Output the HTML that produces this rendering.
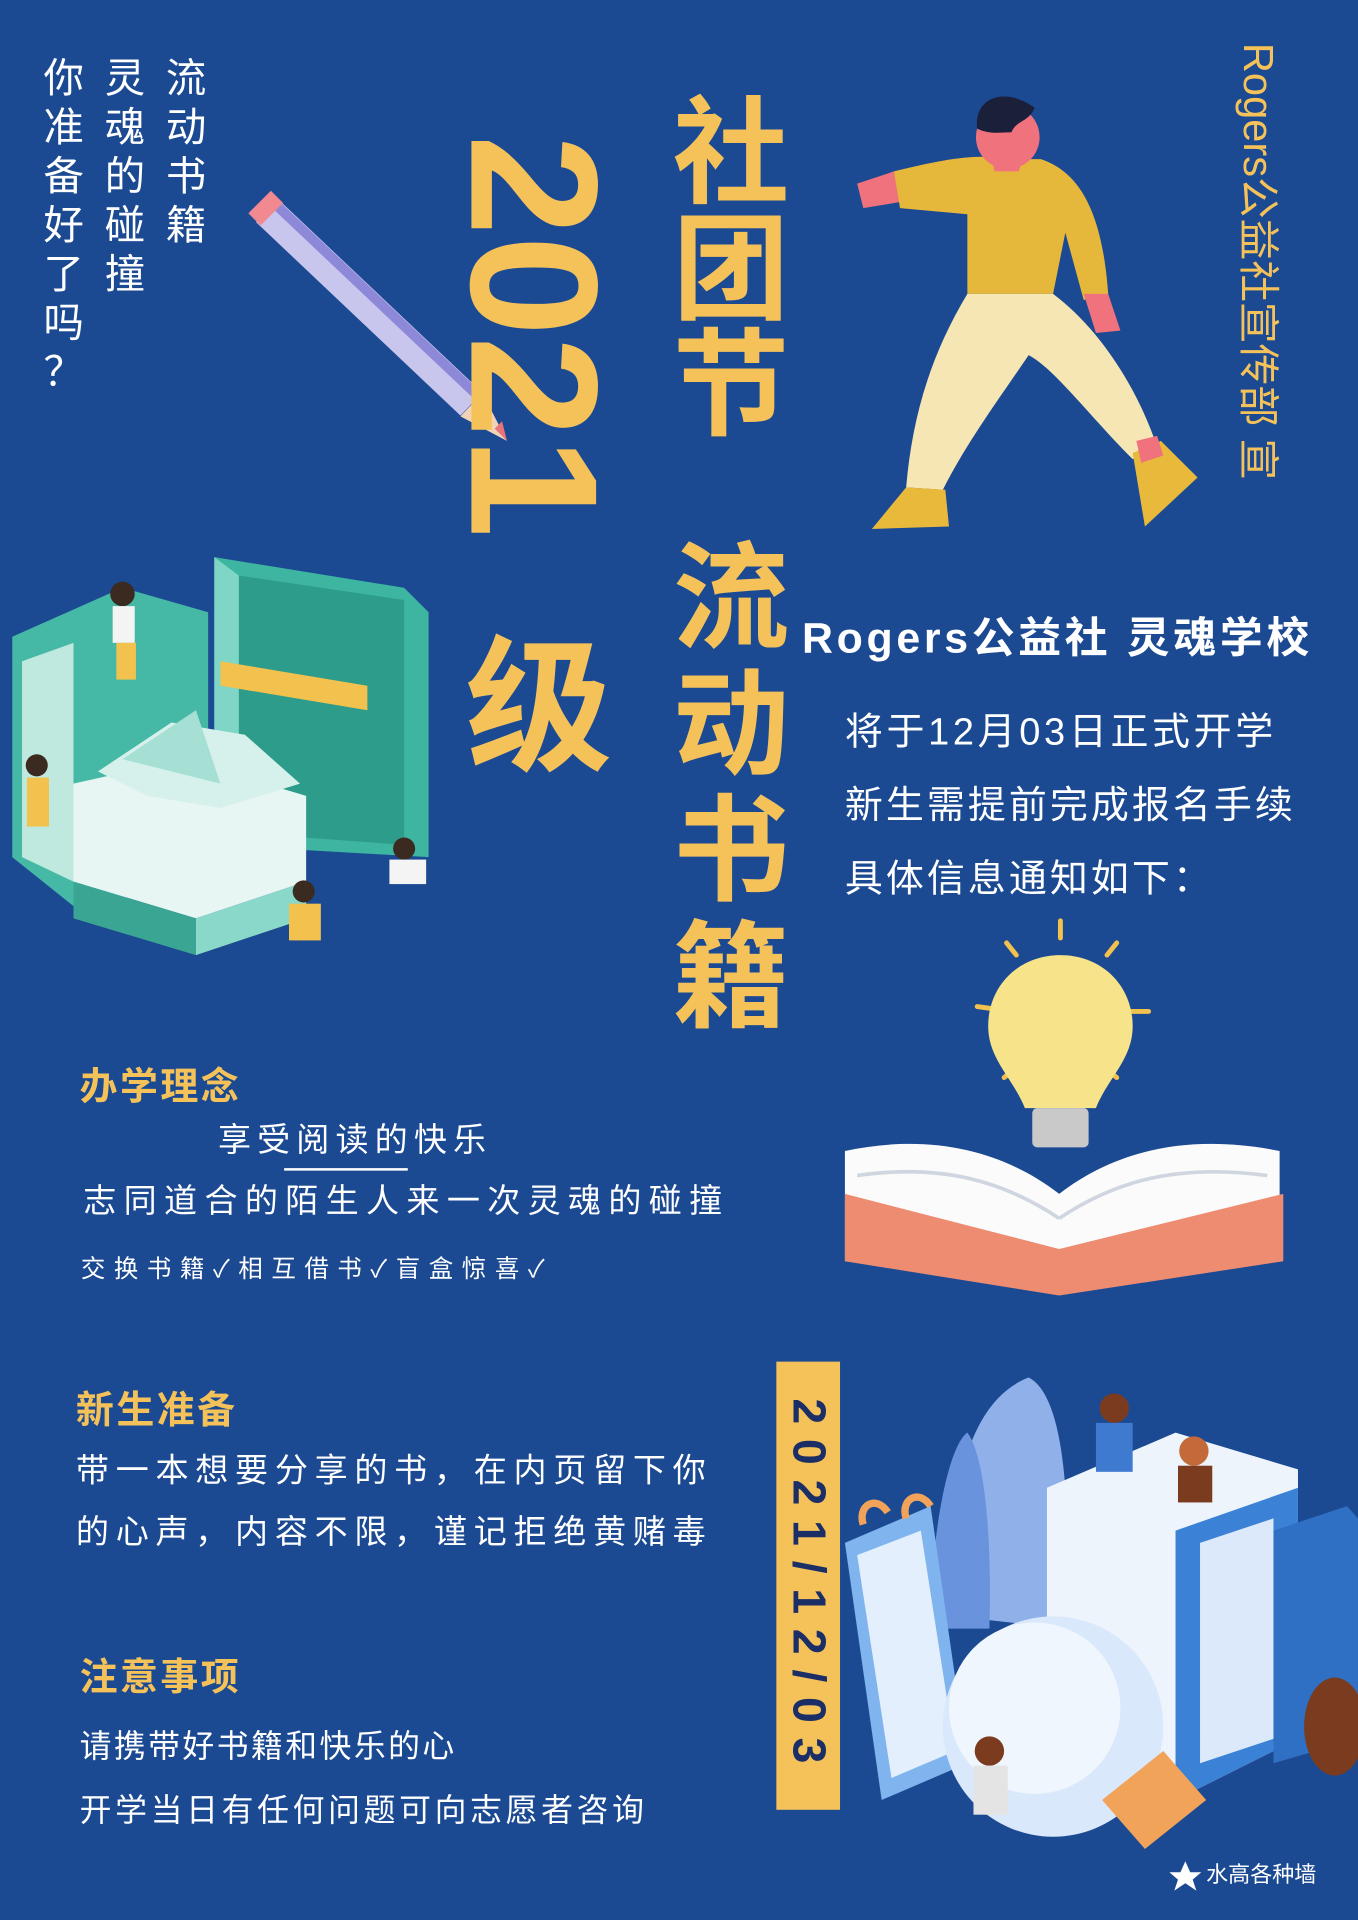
<!DOCTYPE html>
<html><head><meta charset="utf-8"><style>
html,body{margin:0;padding:0;background:#1b4a93;}
svg{display:block}
text{font-family:"Liberation Sans","Noto Sans CJK SC",sans-serif;}
</style></head><body>
<svg id="poster" width="1358" height="1920" viewBox="0 0 1109 1568" xmlns="http://www.w3.org/2000/svg">
<rect width="1109" height="1568" fill="#1b4a93"/>

<g>
<line x1="218" y1="172" x2="385" y2="330" stroke="#c9c6ee" stroke-width="26" stroke-linecap="butt"/>
<line x1="224" y1="166" x2="391" y2="324" stroke="#8e88d8" stroke-width="8"/>
<line x1="212" y1="165" x2="222" y2="175" stroke="#f08a90" stroke-width="26"/>
<polygon points="376,340 394,321 414,360" fill="#f3d3b8"/>
<polygon points="404,350 410,344 414,360" fill="#e9737b"/>
</g>

<g>
<path d="M700,150 L730,140 L735,165 L705,170 Z" fill="#f0727c"/>
<path d="M730,140 C770,130 800,125 820,130 L850,130 C880,140 900,170 905,240 L885,245 L870,190 L860,240 L790,240 L790,175 L735,170 Z" fill="#e5b73b"/>
<path d="M885,240 L905,240 L915,270 L895,272 Z" fill="#f0727c"/>
<path d="M790,240 L860,240 C900,270 930,320 945,365 L925,375 C890,340 860,300 840,290 C820,320 790,360 770,400 L740,398 C745,340 760,290 790,240 Z" fill="#f6e6b4"/>
<path d="M740,398 L772,400 L775,430 L712,432 Z" fill="#e9b93b"/>
<path d="M925,370 L948,360 L978,390 L935,430 Z" fill="#e9b93b"/>
<path d="M928,360 L945,356 L950,372 L932,378 Z" fill="#f0727c"/>
<circle cx="823" cy="112" r="26" fill="#f0727c"/>
<path d="M798,105 C795,80 820,70 845,88 C840,100 830,98 826,108 C818,108 808,110 798,105 Z" fill="#1a1f3a"/>
<path d="M810,128 L835,130 L832,140 L812,140 Z" fill="#f0727c"/>
</g>

<g>
<polygon points="175,455 330,480 350,500 350,700 175,690" fill="#3db5a0"/>
<polygon points="195,470 330,490 330,690 195,680" fill="#2e9c8a"/>
<polygon points="175,455 195,470 195,680 175,690" fill="#7fd6c6"/>
<polygon points="180,540 300,560 300,580 180,560" fill="#f2c14e"/>
<polygon points="10,520 100,480 170,500 170,720 60,740 10,700" fill="#46b9a6"/>
<polygon points="18,540 60,525 60,720 18,700" fill="#bfe9df"/>
<polygon points="60,640 150,620 250,650 250,720 160,750 60,720" fill="#e8f6f3"/>
<polygon points="60,720 160,750 160,780 60,750" fill="#3aa592"/>
<polygon points="160,750 250,720 250,750 160,780" fill="#8ad8c9"/>
<polygon points="80,630 140,590 200,600 245,640 180,660 120,650" fill="#d6f1ec"/>
<polygon points="100,620 160,580 180,640" fill="#a6e0d5"/>
<circle cx="100" cy="485" r="10" fill="#3a2a1f"/>
<rect x="92" y="495" width="18" height="30" fill="#f4f4f4"/>
<rect x="95" y="525" width="16" height="30" fill="#f2c14e"/>
<circle cx="330" cy="693" r="9" fill="#3a2a1f"/>
<rect x="318" y="702" width="30" height="20" fill="#f4f4f4"/>
<circle cx="248" cy="728" r="9" fill="#3a2a1f"/>
<rect x="236" y="738" width="26" height="30" fill="#f2c14e"/>
<circle cx="30" cy="625" r="9" fill="#3a2a1f"/>
<rect x="22" y="635" width="18" height="40" fill="#f2c14e"/>
</g>

<g>
<g stroke="#f2c14e" stroke-width="4" stroke-linecap="round">
<line x1="866" y1="752" x2="866" y2="766"/><line x1="822" y1="770" x2="830" y2="780"/><line x1="912" y1="770" x2="904" y2="780"/>
<line x1="798" y1="822" x2="812" y2="824"/><line x1="938" y1="826" x2="924" y2="826"/>
<line x1="820" y1="880" x2="830" y2="872"/><line x1="912" y1="880" x2="902" y2="872"/>
</g>
<path d="M866,780 C900,780 925,805 925,838 C925,865 905,880 895,905 L837,905 C827,880 807,865 807,838 C807,805 832,780 866,780 Z" fill="#f7e48a"/>
<rect x="843" y="905" width="46" height="32" rx="4" fill="#c9c9c9"/>
<path d="M690,940 C760,925 820,940 865,975 C910,940 970,925 1045,940 L1045,1030 L865,1050 L690,1030 Z" fill="#fbfbfb"/>
<path d="M700,960 C770,950 820,965 865,995 M1035,960 C960,950 910,965 865,995" stroke="#d0d6e0" stroke-width="3" fill="none"/>
<path d="M690,975 L865,1020 L1048,975 L1048,1030 L865,1058 L690,1030 Z" fill="#ee8c72"/>
</g>

<g>
<path d="M780,1320 C770,1200 800,1140 840,1125 C870,1140 875,1230 870,1330 Z" fill="#8fb0e8"/>
<path d="M760,1330 C760,1250 775,1180 790,1170 C805,1190 810,1260 808,1330 Z" fill="#6a93de"/>
<polygon points="690,1260 760,1230 790,1440 720,1470" fill="#7fb4ee"/>
<polygon points="700,1270 752,1250 780,1430 728,1452" fill="#e3effc"/>
<polygon points="855,1215 960,1170 1060,1200 1060,1420 960,1470 855,1430" fill="#eef4fc"/>
<polygon points="960,1250 1060,1215 1060,1420 960,1470" fill="#3b82d6"/>
<polygon points="980,1260 1040,1240 1040,1420 980,1440" fill="#dbe9fb"/>
<polygon points="1040,1250 1100,1230 1109,1240 1109,1420 1040,1440" fill="#2f6fc4"/>
<circle cx="860" cy="1410" r="90" fill="#d9e8fb"/>
<circle cx="845" cy="1395" r="70" fill="#f0f6fe"/>
<polygon points="900,1470 950,1430 985,1470 935,1510" fill="#f2a35a"/>
<circle cx="910" cy="1150" r="12" fill="#7a3b1f"/><rect x="895" y="1162" width="30" height="40" fill="#3e7bd0"/>
<circle cx="975" cy="1185" r="12" fill="#c46a3a"/><rect x="962" y="1197" width="28" height="30" fill="#7a3b1f"/>
<circle cx="808" cy="1430" r="12" fill="#7a3b1f"/><rect x="795" y="1442" width="28" height="40" fill="#e4e4e4"/>
<ellipse cx="1090" cy="1410" rx="25" ry="40" fill="#7a3b1f"/>
<path d="M705,1245 C700,1230 715,1220 725,1235 M740,1240 C735,1225 750,1215 760,1230" stroke="#f2a35a" stroke-width="6" fill="none"/>
</g>

<rect x="634" y="1112" width="52" height="366" fill="#f5c25a"/>
<text x="648" y="1142" transform="rotate(90 648 1142)" font-size="38" font-weight="700" fill="#1b2f66" letter-spacing="12">2021/12/03</text>

<text x="385" y="110" transform="rotate(90 385 110)" font-size="148" font-weight="700" fill="#f5c25a">2021</text>
<text x="440" y="620" text-anchor="middle" font-size="120" font-weight="700" fill="#f5c25a">级</text>
<g id="vt"></g>

<text x="655" y="533" font-size="35" font-weight="700" fill="#ffffff" letter-spacing="3">Rogers公益社 灵魂学校</text>
<text x="690" y="608" font-size="31" fill="#ffffff" letter-spacing="3">将于12月03日正式开学</text>
<text x="690" y="668" font-size="31" fill="#ffffff" letter-spacing="2.5">新生需提前完成报名手续</text>
<text x="690" y="728" font-size="31" fill="#ffffff" letter-spacing="2.5">具体信息通知如下：</text>

<text x="1016" y="35" transform="rotate(90 1016 35)" font-size="34" fill="#f5c25a">Rogers公益社宣传部 宣</text>

<text x="65" y="898" font-size="31" font-weight="700" fill="#f5c25a" letter-spacing="2">办学理念</text>
<text x="178" y="940" font-size="27" fill="#ffffff" letter-spacing="5">享受阅读的快乐</text>
<line x1="232" y1="955" x2="333" y2="955" stroke="#ffffff" stroke-width="2"/>
<text x="68" y="990" font-size="27" fill="#ffffff" letter-spacing="6">志同道合的陌生人来一次灵魂的碰撞</text>
<text x="66" y="1043" font-size="20" fill="#ffffff" letter-spacing="7">交换书籍✓相互借书✓盲盒惊喜✓</text>

<text x="62" y="1162" font-size="31" font-weight="700" fill="#f5c25a" letter-spacing="2">新生准备</text>
<text x="62" y="1210" font-size="27" fill="#ffffff" letter-spacing="5.5">带一本想要分享的书，在内页留下你</text>
<text x="62" y="1260" font-size="27" fill="#ffffff" letter-spacing="5.5">的心声，内容不限，谨记拒绝黄赌毒</text>

<text x="65" y="1380" font-size="31" font-weight="700" fill="#f5c25a" letter-spacing="2">注意事项</text>
<text x="65" y="1435" font-size="26" fill="#ffffff" letter-spacing="2">请携带好书籍和快乐的心</text>
<text x="65" y="1487" font-size="26" fill="#ffffff" letter-spacing="3">开学当日有任何问题可向志愿者咨询</text>

<text x="985" y="1537" font-size="18" fill="#ffffff">水高各种墙</text>
<polygon points="968,1520 972,1529 981,1529 974,1535 977,1544 968,1538 959,1544 962,1535 955,1529 964,1529" fill="#ffffff"/>
</svg>
<script>
var vt=document.getElementById('vt');
function vcol(str,cx,y0,pitch,size,color,weight,name){
  for(var i=0;i<str.length;i++){
    var t=document.createElementNS('http://www.w3.org/2000/svg','text');
    
    
    t.setAttribute('x',cx);t.setAttribute('y',y0+i*pitch);
    t.setAttribute('text-anchor','middle');t.setAttribute('font-size',size);
    t.setAttribute('fill',color);t.setAttribute('font-weight',weight);
    t.textContent=str[i];vt.appendChild(t);
  }
}
vcol('社团节',597,158,95,95,'#f5c25a','700','club-festival-title');
vcol('流动书籍',597,522,103,95,'#f5c25a','700','book-exchange-title');
vcol('流动书籍',152,75,40,33,'#ffffff','400','slogan-column-1');
vcol('灵魂的碰撞',102,75,40,33,'#ffffff','400','slogan-column-2');
vcol('你准备好了吗？',52,75,40,33,'#ffffff','400','slogan-column-3');
</script>
</body></html>
